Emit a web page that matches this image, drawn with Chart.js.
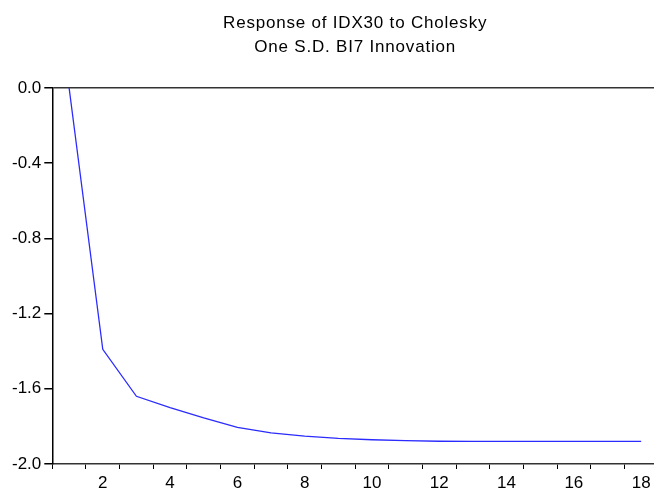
<!DOCTYPE html>
<html>
<head>
<meta charset="utf-8">
<script src="https://cdn.jsdelivr.net/npm/chart.js@4/dist/chart.umd.min.js"></script>
<style>
  html, body { margin: 0; padding: 0; background: #fff; overflow: hidden; }
  #wrap { width: 654px; height: 491px; overflow: hidden; }
</style>
</head>
<body>
<div id="wrap"><canvas id="irf" width="664" height="491"></canvas></div>
<script>
const periods = ['1','2','3','4','5','6','7','8','9','10','11','12','13','14','15','16','17','18'];
const response = [0, -1.39, -1.64, -1.70, -1.755, -1.805, -1.835, -1.852, -1.864, -1.871, -1.876, -1.879, -1.880, -1.880, -1.880, -1.880, -1.880, -1.880];
const yTicks = [0.0, -0.4, -0.8, -1.2, -1.6, -2.0];
const titleLines = ['Response of IDX30 to Cholesky', 'One S.D. BI7 Innovation'];

const fontFamily = 'Arial, "Liberation Sans", sans-serif';

// title is centred on the plot area, not on the canvas
const titlePlugin = {
  id: 'plotTitle',
  afterDraw(chart) {
    const { ctx, chartArea } = chart;
    const cx = (chartArea.left + chartArea.right) / 2;
    ctx.save();
    ctx.font = '17px ' + fontFamily;
    ctx.letterSpacing = '0.8px';
    ctx.fillStyle = '#000';
    ctx.textAlign = 'center';
    ctx.textBaseline = 'alphabetic';
    ctx.fillText(titleLines[0], cx, 28);
    ctx.fillText(titleLines[1], cx, 52);
    ctx.restore();
  }
};

new Chart(document.getElementById('irf'), {
  type: 'line',
  data: {
    labels: periods,
    datasets: [{
      data: response,
      borderColor: '#2b2bff',
      borderWidth: 1.3,
      pointRadius: 0,
      tension: 0,
      fill: false
    }]
  },
  options: {
    responsive: false,
    animation: false,
    layout: { padding: { top: 88, left: 9, right: 6, bottom: -7 } },
    plugins: {
      legend: { display: false },
      tooltip: { enabled: false }
    },
    scales: {
      x: {
        type: 'category',
        offset: true,
        grid: {
          offset: true,
          drawOnChartArea: false,
          drawTicks: true,
          tickLength: 5,
          tickColor: '#000'
        },
        border: { color: '#333', width: 1.5 },
        ticks: {
          autoSkip: false,
          maxRotation: 0,
          padding: 6,
          color: '#000',
          font: { family: fontFamily, size: 17, lineHeight: 1 },
          callback: (val, i) => (i + 1) % 2 === 0 ? periods[i] : ''
        }
      },
      y: {
        min: -2.0,
        max: 0.0,
        afterBuildTicks: axis => { axis.ticks = yTicks.map(v => ({ value: v })); },
        grid: {
          color: ctx => (ctx.tick && ctx.tick.value === 0) ? '#333' : 'rgba(0,0,0,0)',
          lineWidth: 1.5,
          tickLength: 8,
          tickColor: '#000'
        },
        border: { color: '#000', width: 1.5 },
        ticks: {
          padding: 3,
          color: '#000',
          font: { family: fontFamily, size: 17 },
          callback: v => Number(v).toFixed(1)
        }
      }
    }
  },
  plugins: [titlePlugin]
});
</script>
</body>
</html>
